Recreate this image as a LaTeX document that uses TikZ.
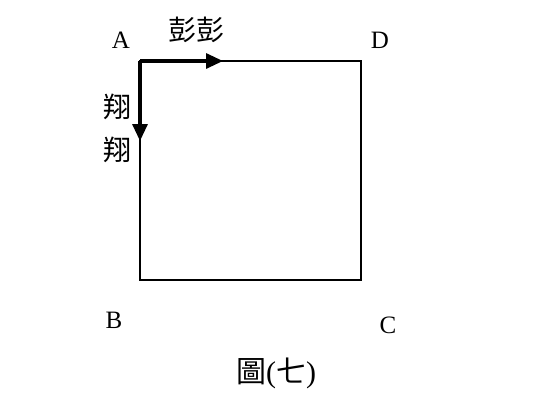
\documentclass[tikz,border=0pt]{standalone}
\usepackage{fontspec}
\setmainfont{Liberation Serif}
\newfontfamily\cjk{Noto Sans CJK TC}
\usetikzlibrary{arrows.meta}
\begin{document}
\begin{tikzpicture}[x=1pt,y=-1pt,
  lbl/.style={font=\fontsize{25}{27}\selectfont, inner sep=0pt},
  cj/.style={font=\cjk\fontsize{28}{30}\selectfont, inner sep=0pt},
  thick arrow/.style={line width=3.2pt, -{Triangle[length=17pt,width=15pt]}},
  side/.style={line width=1.4pt}]
\useasboundingbox (0,0) rectangle (540,410);
\coordinate (A) at (140,61);
\coordinate (D) at (361,61);
\coordinate (B) at (140,280);
\coordinate (C) at (361,280);
\coordinate (H) at (223,61);
\coordinate (V) at (140,141);
\draw[side] (A) -- (D) -- (C) -- (B) -- cycle;
\draw[thick arrow] (A) -- (H);
\draw[thick arrow] (A) -- (V);
\node[lbl] (la) at (121,40) {A};
\node[lbl] (ld) at (380,40) {D};
\node[lbl] (lb) at (114,320) {B};
\node[lbl] (lc) at (388,325) {C};
\node[cj] (pp) at (196,30) {彭彭};
\node[cj] (x1) at (117,107) {翔};
\node[cj] (x2) at (117,150) {翔};
\node[inner sep=0pt] (cap) at (276,373) {{\cjk\fontsize{30}{32}\selectfont 圖}{\fontsize{30}{32}\selectfont(}{\cjk\fontsize{30}{32}\selectfont 七}{\fontsize{30}{32}\selectfont)}};
\end{tikzpicture}
\end{document}
